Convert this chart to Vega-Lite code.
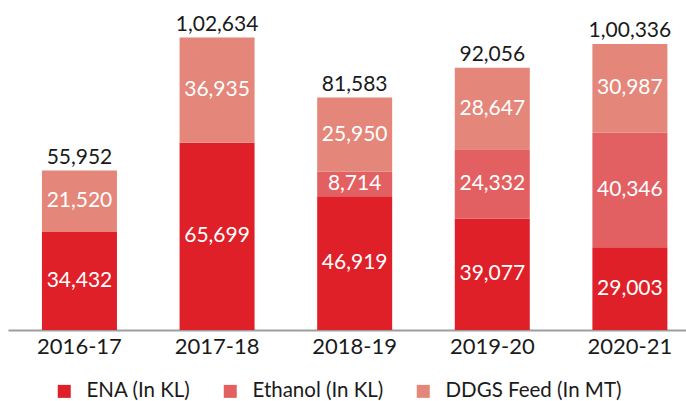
{
  "$schema": "https://vega.github.io/schema/vega-lite/v6.json",
  "width": 678,
  "height": 320,
  "autosize": {"type": "none"},
  "padding": {"left": 8, "top": 10, "right": 0, "bottom": 71},
  "background": "white",
  "config": {
    "font": "Lato",
    "view": {"stroke": null},
    "locale": {"number": {"decimal": ".", "thousands": ",", "grouping": [3, 2], "currency": ["₹", ""]}}
  },
  "data": {
    "values": [
      {"year": "2016-17", "type": "ENA (In KL)", "seq": 1, "value": 34432},
      {"year": "2016-17", "type": "DDGS Feed (In MT)", "seq": 3, "value": 21520},
      {"year": "2017-18", "type": "ENA (In KL)", "seq": 1, "value": 65699},
      {"year": "2017-18", "type": "DDGS Feed (In MT)", "seq": 3, "value": 36935},
      {"year": "2018-19", "type": "ENA (In KL)", "seq": 1, "value": 46919},
      {"year": "2018-19", "type": "Ethanol (In KL)", "seq": 2, "value": 8714},
      {"year": "2018-19", "type": "DDGS Feed (In MT)", "seq": 3, "value": 25950},
      {"year": "2019-20", "type": "ENA (In KL)", "seq": 1, "value": 39077},
      {"year": "2019-20", "type": "Ethanol (In KL)", "seq": 2, "value": 24332},
      {"year": "2019-20", "type": "DDGS Feed (In MT)", "seq": 3, "value": 28647},
      {"year": "2020-21", "type": "ENA (In KL)", "seq": 1, "value": 29003},
      {"year": "2020-21", "type": "Ethanol (In KL)", "seq": 2, "value": 40346},
      {"year": "2020-21", "type": "DDGS Feed (In MT)", "seq": 3, "value": 30987}
    ]
  },
  "encoding": {
    "x": {
      "field": "year",
      "type": "nominal",
      "scale": {"paddingInner": 0.455, "paddingOuter": 0.191, "align": 0.646},
      "axis": {
        "title": null,
        "labelAngle": 0,
        "labelFontSize": 22,
        "labelColor": "#1a1a1a",
        "labelPadding": 6,
        "ticks": false,
        "domainColor": "#9e9e9e",
        "domainWidth": 2
      }
    }
  },
  "layer": [
    {
      "transform": [
        {"stack": "value", "groupby": ["year"], "sort": [{"field": "seq", "order": "ascending"}], "as": ["v0", "v1"]}
      ],
      "layer": [
        {
          "mark": {"type": "bar"},
          "encoding": {
            "y": {"field": "v0", "type": "quantitative", "scale": {"domain": [0, 112300], "nice": false, "zero": true}, "axis": null},
            "y2": {"field": "v1"},
            "color": {
              "field": "type",
              "type": "nominal",
              "scale": {"domain": ["ENA (In KL)", "Ethanol (In KL)", "DDGS Feed (In MT)"], "range": ["#DF2029", "#E36062", "#E4867A"]},
              "legend": {
                "title": null,
                "orient": "none",
                "legendX": 46,
                "legendY": 371,
                "direction": "horizontal",
                "symbolType": "square",
                "symbolSize": 169,
                "symbolStrokeWidth": 0,
                "symbolOffset": 0,
                "labelOffset": 12,
                "labelFontSize": 20.5,
                "labelLimit": 0,
                "labelColor": "#1a1a1a",
                "columnPadding": 29
              }
            }
          }
        },
        {
          "transform": [{"calculate": "(datum.v0 + datum.v1) / 2", "as": "vmid"}],
          "mark": {"type": "text", "color": "white", "fontSize": 21, "baseline": "middle"},
          "encoding": {
            "y": {"field": "vmid", "type": "quantitative"},
            "text": {"field": "value", "type": "quantitative", "format": ","}
          }
        }
      ]
    },
    {
      "mark": {"type": "text", "color": "#1a1a1a", "fontSize": 21, "baseline": "alphabetic", "dy": -7},
      "encoding": {
        "y": {"field": "value", "type": "quantitative", "aggregate": "sum"},
        "text": {"field": "value", "type": "quantitative", "aggregate": "sum", "format": ","}
      }
    }
  ]
}
